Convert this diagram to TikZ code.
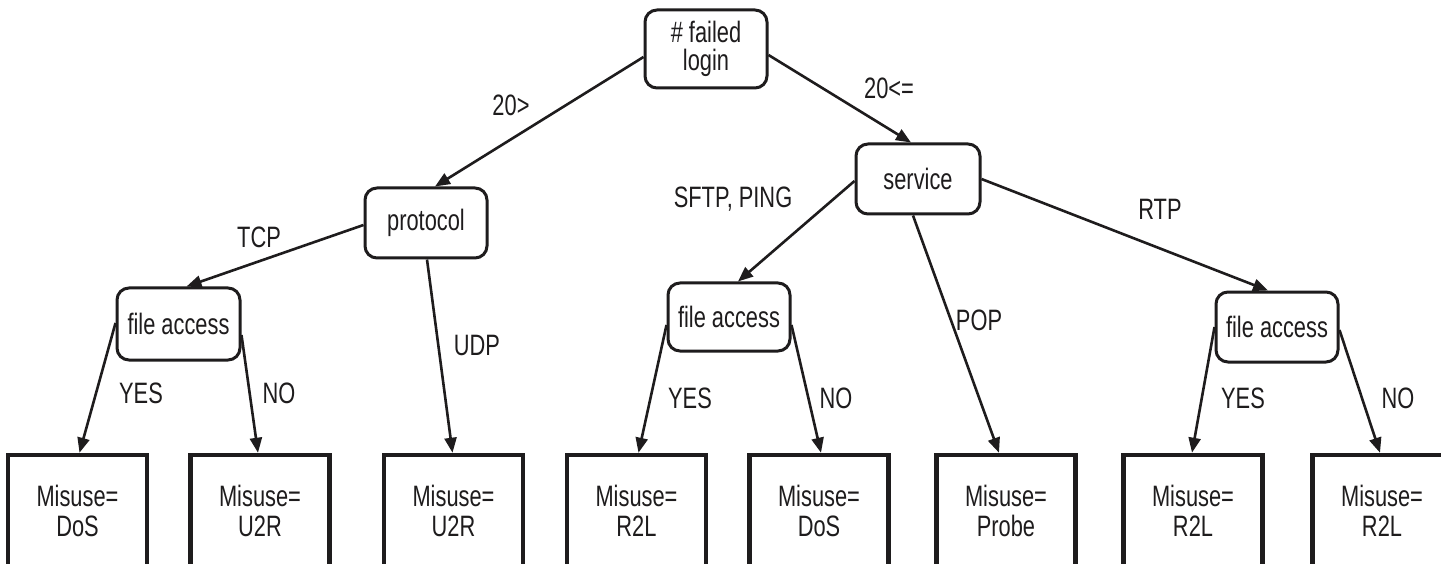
\documentclass[tikz,border=0pt]{standalone}
\usepackage{fontspec}
\setmainfont{Liberation Sans}[FakeStretch=0.74]
\usetikzlibrary{calc,arrows.meta}
\definecolor{ink}{RGB}{30,28,29}
\begin{document}
\begin{tikzpicture}[x=1pt,y=-1pt,
  every node/.style={font=\fontsize{29.5}{29}\selectfont, text=ink},
  dec/.style={draw=ink, line width=3pt, rounded corners=12pt, align=center, inner sep=0pt},
  leaf/.style={draw=ink, line width=4.5pt, align=center, inner sep=0pt, minimum width=139pt, minimum height=112pt, font=\fontsize{29.5}{30}\selectfont},
  arr/.style={draw=ink, line width=2.6pt, -{Triangle[length=15pt,width=12pt]}},
  lab/.style={inner sep=0pt}
]
\useasboundingbox (0,0) rectangle (1441,564);
\clip (0,0) rectangle (1441,564);
\fill[white] (0,0) rectangle (1441,564);

% decision nodes
\node[dec, minimum width=122pt, minimum height=78pt] (root) at (706,49) {\# failed\\[-1pt]login};
\node[dec, minimum width=122pt, minimum height=70pt] (proto) at (426,223) {protocol};
\node[dec, minimum width=123pt, minimum height=72pt] (fa1) at (178.5,324) {file access};
\node[dec, minimum width=124pt, minimum height=70pt] (serv) at (918,179) {service};
\node[dec, minimum width=122pt, minimum height=68pt] (fa2) at (729,317) {file access};
\node[dec, minimum width=122pt, minimum height=70pt] (fa3) at (1277,327) {file access};

% leaves
\node[leaf] (b1) at (77.5,511) {Misuse=\\DoS};
\node[leaf] (b2) at (260,511) {Misuse=\\U2R};
\node[leaf] (b3) at (453.5,511) {Misuse=\\U2R};
\node[leaf] (b4) at (636.5,511) {Misuse=\\R2L};
\node[leaf] (b5) at (819,511) {Misuse=\\DoS};
\node[leaf] (b6) at (1006,511) {Misuse=\\Probe};
\node[leaf] (b7) at (1193,511) {Misuse=\\R2L};
\node[leaf] (b8) at (1382,511) {Misuse=\\R2L};

% connectors
\draw[arr] ($(root.west)+(0,8)$) -- ($(proto.north)+(9,0)$);
\draw[arr] ($(root.east)+(0,6)$) -- ($(serv.north)+(-7,0)$);
\draw[arr] ($(proto.west)+(0,2)$) -- ($(fa1.north)+(8,0)$);
\draw[arr] ($(proto.south)+(1,0)$) -- ($(b3.north)+(-1,0)$);
\draw[arr] ($(fa1.west)+(0,-1)$) -- ($(b1.north)+(2,0)$);
\draw[arr] ($(fa1.east)+(0,11)$) -- ($(b2.north)+(-2,0)$);
\draw[arr] ($(serv.west)+(0,2)$) -- ($(fa2.north)+(9,0)$);
\draw[arr] ($(serv.south)+(-5,0)$) -- ($(b6.north)+(-7,0)$);
\draw[arr] ($(serv.east)+(0,0)$) -- ($(fa3.north)+(-9,0)$);
\draw[arr] ($(fa2.west)+(0,8)$) -- ($(b4.north)+(2,0)$);
\draw[arr] ($(fa2.east)+(0,8)$) -- ($(b5.north)+(2,0)$);
\draw[arr] ($(fa3.west)+(0,0)$) -- ($(b7.north)+(-1,0)$);
\draw[arr] ($(fa3.east)+(0,3)$) -- ($(b8.north)+(-2,0)$);

% labels
\node[lab] (l1) at (511,105) {20>};
\node[lab] (l2) at (889,88) {20<=};
\node[lab] (l3) at (259,237) {TCP};
\node[lab] (l4) at (477,345) {UDP};
\node[lab] (l5) at (141,393) {YES};
\node[lab] (l6) at (279,393) {NO};
\node[lab] (l7) at (733,199) {SFTP, PING};
\node[lab] (l8) at (979,320) {POP};
\node[lab] (l9) at (1160,209) {RTP};
\node[lab] (l10) at (690,398) {YES};
\node[lab] (l11) at (836,398) {NO};
\node[lab] (l12) at (1243,398) {YES};
\node[lab] (l13) at (1398,398) {NO};
\end{tikzpicture}
\end{document}
